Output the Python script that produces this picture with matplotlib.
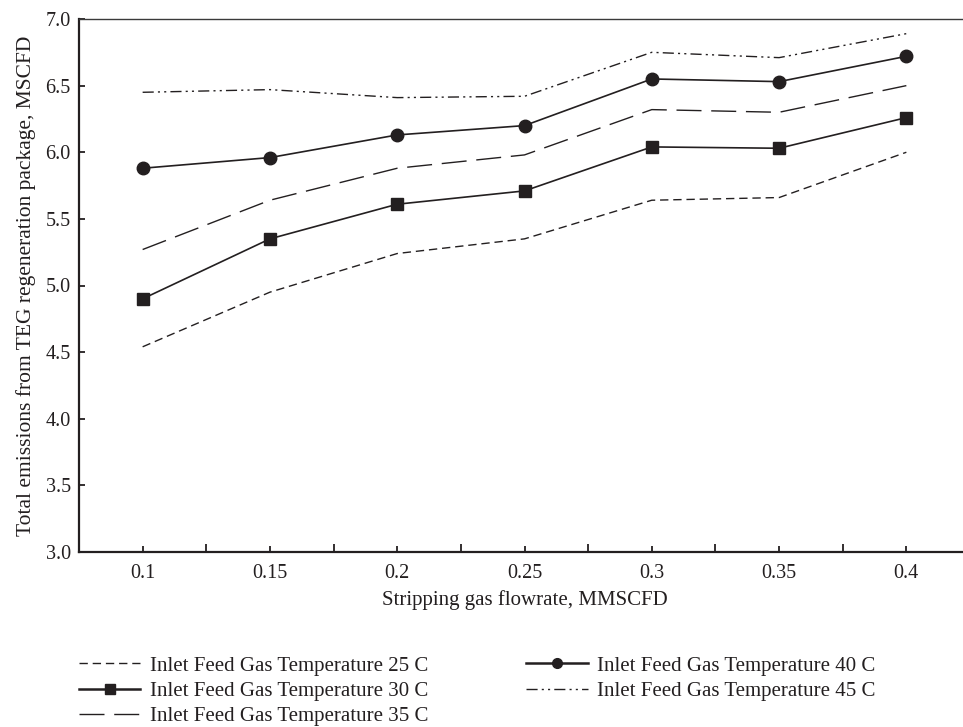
import matplotlib
matplotlib.use("Agg")
import matplotlib.pyplot as plt
from matplotlib.ticker import FixedLocator

plt.rcParams['font.family'] = ['Liberation Serif', 'DejaVu Serif']

categories = ["0.1", "0.15", "0.2", "0.25", "0.3", "0.35", "0.4"]
t25 = [4.54, 4.95, 5.24, 5.35, 5.64, 5.66, 6.00]
t30 = [4.90, 5.35, 5.61, 5.71, 6.04, 6.03, 6.26]
t35 = [5.27, 5.64, 5.88, 5.98, 6.32, 6.30, 6.50]
t40 = [5.88, 5.96, 6.13, 6.20, 6.55, 6.53, 6.72]
t45 = [6.45, 6.47, 6.41, 6.42, 6.75, 6.71, 6.89]
labels = ["Inlet Feed Gas Temperature 25 C", "Inlet Feed Gas Temperature 30 C",
          "Inlet Feed Gas Temperature 35 C", "Inlet Feed Gas Temperature 40 C",
          "Inlet Feed Gas Temperature 45 C"]

C = '#231f20'
fig = plt.figure(figsize=(9.63, 7.27), dpi=100)
ax = fig.add_axes([79/963, 1-552/727, 891/963, (552-19)/727])
x = list(range(len(categories)))

h25, = ax.plot(x, t25, color=C, lw=1.0, linestyle=(0, (6, 3.5)))
h30, = ax.plot(x, t30, color=C, lw=1.2, marker='s', ms=8.5)
h35, = ax.plot(x, t35, color=C, lw=1.0, linestyle=(0, (18, 7)))
h40, = ax.plot(x, t40, color=C, lw=1.2, marker='o', ms=9)
h45, = ax.plot(x, t45, color=C, lw=1.0, linestyle=(0, (8, 3, 1.5, 3, 1.5, 3)))

ax.set_xlim(-0.5, 6.5)
ax.set_ylim(3.0, 7.0)
ax.set_xticks(x)
ax.set_xticklabels(categories)
ax.xaxis.set_minor_locator(FixedLocator([i + 0.5 for i in range(-1, 7)]))
ax.set_yticks([3.0, 3.5, 4.0, 4.5, 5.0, 5.5, 6.0, 6.5, 7.0])
ax.set_yticklabels(["3.0", "3.5", "4.0", "4.5", "5.0", "5.5", "6.0", "6.5", "7.0"])
ax.tick_params(axis='both', which='both', direction='in', color=C, labelsize=14.5, labelcolor=C, width=1.3)
ax.tick_params(axis='x', which='major', length=4.5, pad=9)
ax.tick_params(axis='x', which='minor', length=5.5)
ax.tick_params(axis='y', which='major', length=4.5, pad=6)

for s in ['left', 'bottom']:
    ax.spines[s].set_linewidth(1.6)
    ax.spines[s].set_color(C)
ax.spines['top'].set_linewidth(1.0)
ax.spines['top'].set_color('#3a3a3a')
ax.spines['right'].set_visible(False)

ax.set_xlabel("Stripping gas flowrate, MMSCFD", fontsize=15, color=C, labelpad=5)
ax.set_ylabel("Total emissions from TEG regeneration package, MSCFD", fontsize=15.5, color=C, labelpad=7)

leg = fig.legend([h25, h30, h35, h40, h45], labels, ncol=2, loc='upper left',
                 bbox_to_anchor=(79/963, 1-656/727), frameon=False, fontsize=15,
                 handlelength=2.95, handletextpad=0.45, columnspacing=4.7,
                 labelspacing=0.28, borderaxespad=0, borderpad=0)
for t in leg.get_texts():
    t.set_color(C)
for hd in leg.legend_handles:
    if hd.get_marker() not in (None, 'None', ''):
        hd.set_markersize(7)
        hd.set_linewidth(1.8)

fig.savefig("out.png", dpi=100)
